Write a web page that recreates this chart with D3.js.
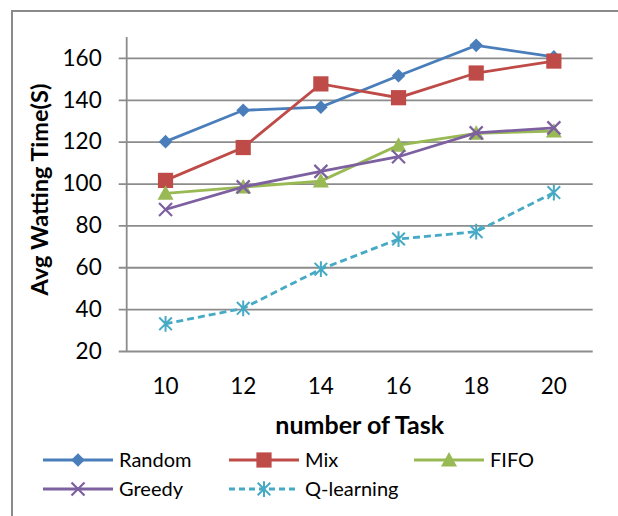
<!DOCTYPE html>
<html>
<head>
<meta charset="utf-8">
<script src="https://cdn.jsdelivr.net/npm/d3@7"></script>
<style>
  html, body { margin: 0; padding: 0; background: #fff; }
  svg { display: block; }
  text { font-family: Lato, "Open Sans", sans-serif; fill: #000; }
</style>
</head>
<body>
<script>
// ---- data ----
const categories = [10, 12, 14, 16, 18, 20];
const randomValues = [120, 135, 136.5, 151.5, 166, 160.5];
const mixValues = [101.5, 117.2, 147.6, 141, 152.8, 158.5];
const fifoValues = [95.3, 98.3, 101.2, 118.3, 124, 125];
const greedyValues = [87.6, 98.4, 105.8, 112.8, 124.2, 126.6];
const qlearningValues = [33, 40.4, 59.1, 73.5, 77, 95.7];
const seriesNames = ["Random", "Mix", "FIFO", "Greedy", "Q-learning"];
const yTicks = [20, 40, 60, 80, 100, 120, 140, 160];
const xTitle = "number of Task";
const yTitle = "Avg Watting Time(S)";

const W = 618, H = 516;
const svg = d3.select("body").append("svg").attr("width", W).attr("height", H);

// outer frame (left and top edges visible)
svg.append("path")
  .attr("d", "M12,520 L12,11 L622,11")
  .attr("fill", "none").attr("stroke", "#8a8a8a").attr("stroke-width", 2);

const plot = { left: 126.7, right: 592.7, top: 37, bottom: 351 };

const x = d3.scaleBand().domain(categories).range([plot.left, plot.right]).padding(0);
const y = d3.scaleLinear().domain([20, 170]).range([plot.bottom, plot.top]);
const cx = d => x(d) + x.bandwidth() / 2;

// gridlines + y axis
const yAxis = d3.axisLeft(y).tickValues(yTicks).tickSize(-(plot.right - plot.left)).tickPadding(18);
const yg = svg.append("g").attr("transform", `translate(${plot.left},0)`).call(yAxis);
yg.select(".domain").remove();
yg.selectAll(".tick line").attr("stroke", "#8c8c8c").attr("stroke-width", 1.8).attr("x1", -8);
yg.selectAll(".tick text").attr("font-size", 22.5).attr("font-family", "Lato").attr("fill", "#000").attr("x", -25);

// y axis line
svg.append("line").attr("x1", plot.left).attr("x2", plot.left).attr("y1", plot.top).attr("y2", plot.bottom)
  .attr("stroke", "#8c8c8c").attr("stroke-width", 1.8);

// x axis labels
const xAxis = d3.axisBottom(x).tickSize(0).tickPadding(27);
const xg = svg.append("g").attr("transform", `translate(0,${plot.bottom})`).call(xAxis);
xg.select(".domain").remove();
xg.selectAll(".tick text").attr("font-size", 22.5).attr("font-family", "Lato").attr("fill", "#000");

// titles
svg.append("text").attr("x", (plot.left + plot.right) / 2).attr("y", 434)
  .attr("text-anchor", "middle").attr("font-weight", "bold").attr("font-size", 25).text(xTitle);
svg.append("text").attr("transform", "translate(48,189.5) rotate(-90)")
  .attr("text-anchor", "middle").attr("font-weight", "bold").attr("font-size", 23.5).text(yTitle);

const colors = ["#4A7EBB", "#BE4B48", "#98B954", "#7D60A0", "#46AAC5"];
const allValues = [randomValues, mixValues, fifoValues, greedyValues, qlearningValues];

function drawMarker(g, type, px, py, color) {
  if (type === 0) {
    const s = 6.8;
    g.append("path").attr("d", `M${px},${py - s}L${px + s},${py}L${px},${py + s}L${px - s},${py}Z`).attr("fill", color);
  } else if (type === 1) {
    const s = 7.6;
    g.append("rect").attr("x", px - s).attr("y", py - s).attr("width", 2 * s).attr("height", 2 * s).attr("fill", color);
  } else if (type === 2) {
    const s = 8;
    g.append("path").attr("d", `M${px},${py - s}L${px + s},${py + s * 0.8}L${px - s},${py + s * 0.8}Z`).attr("fill", color);
  } else if (type === 3) {
    const s = 6.5;
    g.append("path").attr("d", `M${px - s},${py - s}L${px + s},${py + s}M${px + s},${py - s}L${px - s},${py + s}`)
      .attr("stroke", color).attr("stroke-width", 2.2).attr("fill", "none");
  } else {
    const s = 6.3;
    g.append("path").attr("d", `M${px - s},${py - s}L${px + s},${py + s}M${px + s},${py - s}L${px - s},${py + s}M${px},${py - s * 1.25}L${px},${py + s * 1.25}`)
      .attr("stroke", color).attr("stroke-width", 2).attr("fill", "none");
  }
}

const line = d3.line().x((d, i) => cx(categories[i])).y(d => y(d));

allValues.forEach((vals, si) => {
  const g = svg.append("g");
  g.append("path").datum(vals).attr("d", line).attr("fill", "none")
    .attr("stroke", colors[si]).attr("stroke-width", 2.8)
    .attr("stroke-dasharray", si === 4 ? "7,4" : null);
  vals.forEach((v, i) => drawMarker(g, si, cx(categories[i]), y(v), colors[si]));
});

// legend
const legendPos = [
  { lx: 43, ty: 460 }, { lx: 229, ty: 460 }, { lx: 414, ty: 460 },
  { lx: 43, ty: 489 }, { lx: 229, ty: 489 }
];
seriesNames.forEach((name, si) => {
  const p = legendPos[si];
  const g = svg.append("g");
  g.append("line").attr("x1", p.lx).attr("x2", p.lx + 70).attr("y1", p.ty).attr("y2", p.ty)
    .attr("stroke", colors[si]).attr("stroke-width", 2.8)
    .attr("stroke-dasharray", si === 4 ? "6,4" : null);
  drawMarker(g, si, p.lx + 35, p.ty, colors[si]);
  g.append("text").attr("x", p.lx + 76).attr("y", p.ty).attr("dy", "0.35em")
    .attr("font-size", 20).text(name);
});
</script>
</body>
</html>
